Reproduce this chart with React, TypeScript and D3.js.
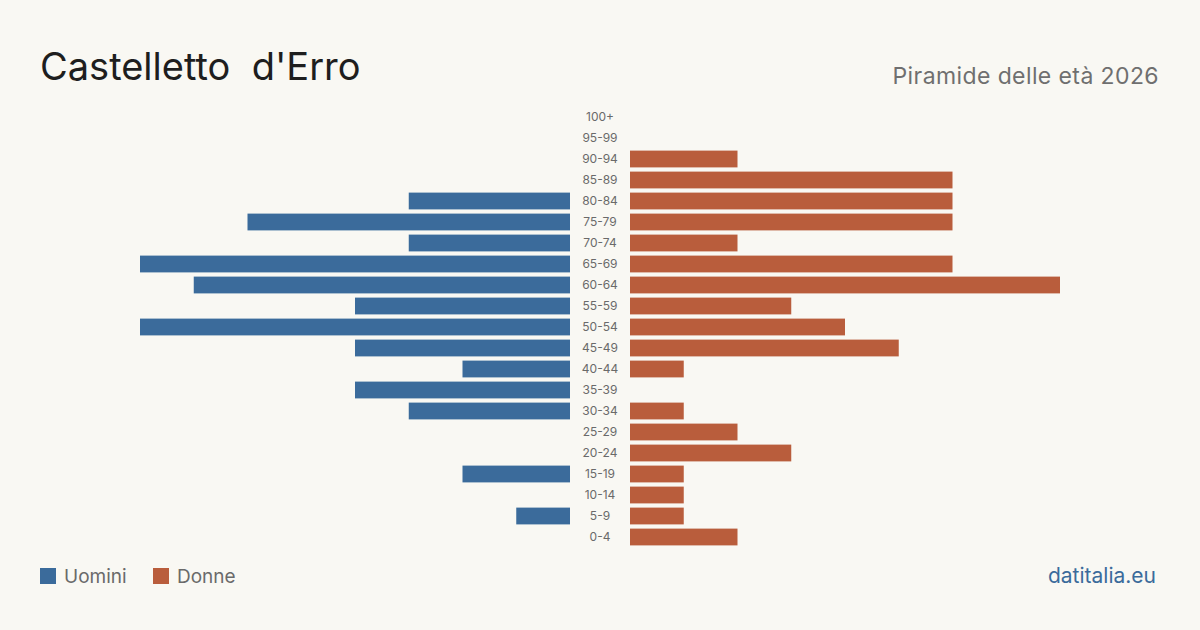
import React from 'react';
import * as d3 from 'd3';

const ageGroups = [
  '100+', '95-99', '90-94', '85-89', '80-84', '75-79', '70-74', '65-69',
  '60-64', '55-59', '50-54', '45-49', '40-44', '35-39', '30-34', '25-29',
  '20-24', '15-19', '10-14', '5-9', '0-4',
];
const maleValues = [0, 0, 0, 0, 3, 6, 3, 8, 7, 4, 8, 4, 2, 4, 3, 0, 0, 2, 0, 1, 0];
const femaleValues = [0, 0, 2, 6, 6, 6, 2, 6, 8, 3, 4, 5, 1, 0, 1, 2, 3, 1, 1, 1, 2];

const title = "Castelletto\u00a0\u00a0d'Erro";
const subtitle = 'Piramide delle età 2026';
const legendLabels = ['Uomini', 'Donne'];
const source = 'datitalia.eu';

const BLUE = '#3b6b9b';
const ORANGE = '#b95d3c';
const FONT = 'Inter, "Noto Sans", sans-serif';

export default function App() {
  const width = 1200;
  const height = 630;
  const maxV = 8;

  const y = d3
    .scaleBand()
    .domain(ageGroups)
    .range([106.5, 547.5])
    .paddingInner(0.2)
    .paddingOuter(0.1);

  const xMale = d3.scaleLinear().domain([0, maxV]).range([570, 140]);
  const xFemale = d3.scaleLinear().domain([0, maxV]).range([630, 1060]);

  return (
    <svg
      width={width}
      height={height}
      style={{ position: 'absolute', left: 0, top: 0, display: 'block' }}
    >
      <rect width={width} height={height} fill="#f9f8f3" />
      <text x={40} y={80} fontFamily={FONT} fontSize={38} fill="#1e1e1e">
        {title}
      </text>
      <text
        x={1159}
        y={84}
        textAnchor="end"
        fontFamily={FONT}
        fontSize={23}
        letterSpacing={0.4}
        fill="#6f6f6f"
      >
        {subtitle}
      </text>

      {ageGroups.map((g, i) => {
        const yy = y(g) || 0;
        const bh = y.bandwidth();
        return (
          <g key={g}>
            {maleValues[i] > 0 && (
              <rect
                x={xMale(maleValues[i])}
                y={yy}
                width={xMale(0) - xMale(maleValues[i])}
                height={bh}
                fill={BLUE}
              />
            )}
            {femaleValues[i] > 0 && (
              <rect
                x={xFemale(0)}
                y={yy}
                width={xFemale(femaleValues[i]) - xFemale(0)}
                height={bh}
                fill={ORANGE}
              />
            )}
            <text
              x={600}
              y={yy + bh / 2}
              dy="0.35em"
              textAnchor="middle"
              fontFamily={FONT}
              fontSize={12}
              fill="#6a6a6a"
            >
              {g}
            </text>
          </g>
        );
      })}

      <rect x={40} y={568} width={16} height={16} fill={BLUE} />
      <text x={64} y={583} fontFamily={FONT} fontSize={19} fill="#6a6a6a">
        {legendLabels[0]}
      </text>
      <rect x={153} y={568} width={16} height={16} fill={ORANGE} />
      <text x={177} y={583} fontFamily={FONT} fontSize={19} fill="#6a6a6a">
        {legendLabels[1]}
      </text>

      <text
        x={1156}
        y={583}
        textAnchor="end"
        fontFamily={FONT}
        fontSize={21}
        fill={BLUE}
      >
        {source}
      </text>
    </svg>
  );
}
